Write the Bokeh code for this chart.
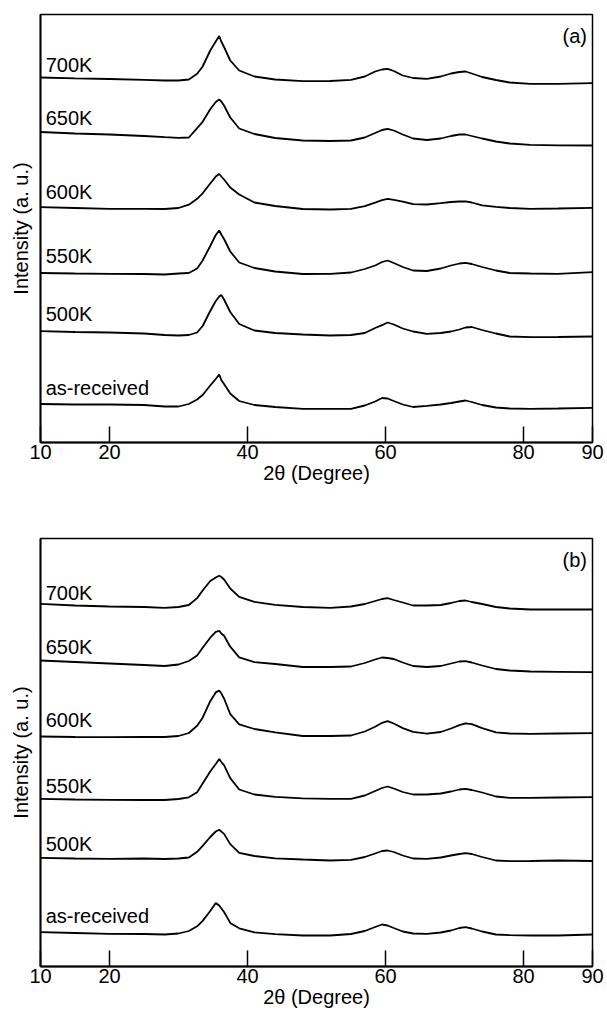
from bokeh.plotting import figure
from bokeh.layouts import column
from bokeh.models import Range1d, FixedTicker
from bokeh.core.properties import value
from bokeh.embed import file_html
from bokeh.resources import INLINE

# ---------------- data ----------------
two_theta = [10, 15, 20, 25, 28, 30, 31.5, 32.7, 33.5, 34.6, 35.4, 35.9, 36.2, 36.6,
             37.5, 38.8, 41, 44, 48, 52, 55, 57, 58.5, 59.5, 60.3, 61.2, 62.5, 64,
             66, 68, 69.5, 70.7, 71.6, 72.5, 74, 76, 78, 81, 85, 90]

samples = ["700K", "650K", "600K", "550K", "500K", "as-received"]

# panel (a), stacked intensities (a.u.)
a_700K = [365, 364.2, 363.5, 362.7, 362, 362, 363, 368.7, 376, 392, 401, 406.5, 401, 395.5,
          382, 372, 366, 363, 361.3, 361.5, 362.7, 366, 371, 373, 373.7, 371.5, 367, 364.5,
          363.7, 366, 369, 370.5, 371, 369, 365.5, 362.5, 360, 358.7, 358.7, 359.3]
a_650K = [310.5, 309, 308, 306.5, 305.3, 304.7, 305, 314.3, 320.7, 333.3, 340.5, 343, 341, 337,
          325, 314, 308.5, 304.5, 302, 301.5, 302, 305, 309.5, 312.5, 313.7, 312, 308, 304,
          302.5, 304, 306.5, 308, 308, 306.5, 304, 301, 299, 297.7, 297.2, 297]
a_600K = [235.3, 234.5, 233.7, 233.7, 233.5, 234.5, 237.8, 243.7, 249.2, 259, 266, 268.5, 266, 263,
          255, 248, 240, 236.5, 233.5, 233, 233.7, 236.4, 239.8, 242.3, 243.7, 242.6, 240.9, 238.3,
          238, 239.3, 240.5, 241, 241.2, 240, 237.2, 235.6, 234.5, 233.7, 234, 234.7]
a_550K = [169.5, 169, 168.7, 168.5, 168, 169, 169.5, 174, 182, 196.5, 207.5, 212, 208, 203.5,
          191, 180, 174.5, 171, 168.5, 168.7, 170, 173.5, 177, 180.5, 182, 179.5, 175.5, 172,
          171.5, 174, 177, 179, 179.7, 178.5, 175.5, 172, 169.5, 169, 168.7, 170.3]
a_500K = [111.3, 110.5, 110, 109, 107.5, 107, 107.5, 110, 116.5, 131.5, 141.5, 146, 147.5, 143,
          130.5, 118.5, 112, 109.5, 108, 107, 107.5, 109.5, 114.5, 117.3, 120, 118, 114, 111,
          108.7, 109.5, 111, 113, 115, 115.5, 112.5, 109, 106, 105.3, 105.5, 106]
a_asrec = [38.5, 38, 38, 37.5, 36, 36, 38.5, 43, 47.5, 57, 63.5, 68, 62.6, 58.5,
           49, 41.5, 37.5, 35.5, 33.7, 33.7, 33.7, 37, 41, 44.5, 44, 41.5, 38, 35.5,
           36.7, 38, 39.5, 41, 42, 40.5, 37.5, 35, 34, 33.7, 34, 34.7]

# panel (b), stacked intensities (a.u.)
b_700K = [362.7, 361, 360, 359.5, 358.7, 359.5, 361.5, 368.4, 376, 385.5, 389, 390.7, 389.5, 387,
          378, 369.7, 364.6, 361.6, 359.5, 358.7, 360, 362.5, 365.5, 367.5, 368.3, 366.5, 364, 361,
          361, 361.5, 363.5, 365.5, 366, 364.5, 362.5, 359.5, 358, 357, 357, 357]
b_650K = [306, 304.5, 303, 301.5, 300.5, 302, 305.5, 311, 318.7, 328.8, 334.7, 335.7, 333, 330.7,
          319.8, 309.2, 304.3, 302.5, 299.5, 299.5, 300, 303.5, 307, 309, 308.5, 307.5, 304, 300.5,
          299.5, 300.5, 303, 305, 305.3, 304, 301, 297.5, 296, 295, 294.7, 294.3]
b_600K = [230, 229.5, 229.3, 229.5, 229.5, 230.5, 233.5, 240.7, 248.8, 265.3, 274.1, 276, 273.2, 268,
          252.4, 242.1, 237.5, 234.2, 230.5, 230.5, 231, 235, 239.7, 243.7, 245.4, 243, 238.4, 234.7,
          232.8, 234.5, 238, 241.4, 243.1, 242.3, 238.3, 234.2, 233, 232.7, 233, 233.3]
b_550K = [167.7, 167, 166.7, 166.5, 166.5, 167.5, 169.2, 174.3, 183, 195, 202.5, 207.5, 204.5, 201.3,
          188.4, 177, 172, 169.7, 168.2, 167.7, 167.7, 171, 175.5, 178.5, 180, 178, 174.5, 172,
          172, 173, 175, 177, 177.7, 176.5, 174, 170, 168.7, 168.7, 169, 169.3]
b_500K = [108.7, 108, 107.7, 108, 107.5, 108, 109, 114.7, 120.6, 129.5, 135, 136.7, 135, 132.6,
          122.4, 113.7, 110.5, 108.2, 107, 106, 106.7, 109.5, 113, 115.5, 116, 114.5, 111, 108,
          107.7, 109, 111, 112.5, 113.3, 112.5, 109.5, 106, 105.3, 105.5, 106, 105.5]
b_asrec = [34.3, 33.5, 32.7, 32.5, 32, 33, 35.5, 40.2, 45.6, 55.5, 63.5, 61, 58.2, 54.5,
           43.6, 38.2, 34.2, 32.4, 31, 31, 32.5, 35.5, 39.5, 42, 41, 38.5, 35, 33,
           32.7, 34, 36, 38.5, 39.3, 38, 35, 32, 31.3, 31, 31, 32]

x_ticks = [10, 20, 40, 60, 80, 90]

# ---------------- drawing ----------------
FONT = "Liberation Sans"


def make_panel(series, label_base, tag, border_top, border_bottom):
    p = figure(frame_width=552, frame_height=428,
               x_range=Range1d(10, 90), y_range=Range1d(0, 428),
               output_backend="svg", toolbar_location=None,
               min_border_left=40, min_border_right=15,
               min_border_top=border_top, min_border_bottom=border_bottom,
               background_fill_color="white", border_fill_color="white")
    p.xgrid.visible = False
    p.ygrid.visible = False
    p.outline_line_color = "black"
    p.outline_line_width = 1.5
    p.outline_line_alpha = 1.0

    for vals in series:
        p.line(two_theta, vals, line_color="black", line_width=1.8)

    p.text(x=[10.75] * len(samples), y=label_base, text=samples,
           text_font=value(FONT), text_font_size=value("20px"),
           text_align="left", text_baseline="alphabetic", text_color="black")
    p.text(x=[89.2], y=[407], text=[tag],
           text_font=value(FONT), text_font_size=value("20px"),
           text_align="right", text_baseline="alphabetic", text_color="black")

    xa = p.xaxis[0]
    xa.ticker = FixedTicker(ticks=x_ticks)
    xa.major_tick_in = 16
    xa.major_tick_out = 0
    xa.minor_tick_in = 0
    xa.minor_tick_out = 0
    xa.axis_line_width = 1.8
    xa.major_tick_line_width = 1.5
    xa.major_label_text_font = FONT
    xa.major_label_text_font_size = "20px"
    xa.major_label_text_color = "black"
    xa.major_label_standoff = 2
    xa.axis_label = "2\u03b8 (Degree)"
    xa.axis_label_text_font = FONT
    xa.axis_label_text_font_size = "20px"
    xa.axis_label_text_font_style = "normal"
    xa.axis_label_text_color = "black"
    xa.axis_label_standoff = 0

    ya = p.yaxis[0]
    ya.ticker = FixedTicker(ticks=[])
    ya.major_tick_in = 0
    ya.major_tick_out = 0
    ya.minor_tick_in = 0
    ya.minor_tick_out = 0
    ya.axis_line_width = 1.8
    ya.major_label_text_font_size = "0px"
    ya.axis_label = "Intensity (a. u.)"
    ya.axis_label_text_font = FONT
    ya.axis_label_text_font_size = "20px"
    ya.axis_label_text_font_style = "normal"
    ya.axis_label_text_color = "black"
    ya.axis_label_standoff = 9
    return p


pa = make_panel([a_700K, a_650K, a_600K, a_550K, a_500K, a_asrec],
                [378, 324.5, 251, 186.5, 128.5, 55], "(a)", 14, 50)
pb = make_panel([b_700K, b_650K, b_600K, b_550K, b_500K, b_asrec],
                [373.5, 320, 247, 181, 123, 51], "(b)", 46, 44)

layout = column(pa, pb)
open("out.html", "w").write(file_html(layout, INLINE))
